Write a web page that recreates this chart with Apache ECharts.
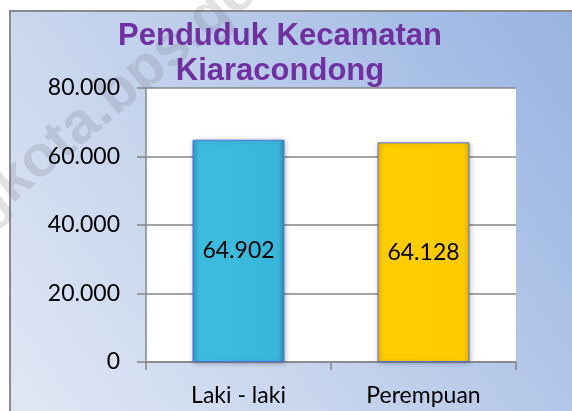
<!DOCTYPE html>
<html>
<head>
<meta charset="utf-8">
<script src="https://cdn.jsdelivr.net/npm/echarts@6/dist/echarts.min.js"></script>
<style>
  html, body { margin: 0; padding: 0; background: #ffffff; }
  #chart { width: 572px; height: 411px; }
</style>
</head>
<body>
<div id="chart"></div>
<script>
// ---- data ----
const titleLines = ['Penduduk Kecamatan', 'Kiaracondong'];
const categories = ['Laki - laki', 'Perempuan'];
const values = [64902, 64128];
const yMin = 0;
const yMax = 80000;
const yStep = 20000;
const watermark = 'bandungkota.bps.go.id';

// ---- helpers ----
function fmt(v) {
  return String(Math.round(v)).replace(/\B(?=(\d{3})+(?!\d))/g, '.');
}
const barGradients = [
  new echarts.graphic.LinearGradient(0, 0, 1, 0, [
    { offset: 0, color: '#2b9dbd' },
    { offset: 0.07, color: '#3cbcdf' },
    { offset: 0.93, color: '#38b7da' },
    { offset: 1, color: '#2792b1' }
  ]),
  new echarts.graphic.LinearGradient(0, 0, 1, 0, [
    { offset: 0, color: '#f2be00' },
    { offset: 0.07, color: '#ffcd00' },
    { offset: 0.93, color: '#ffcb00' },
    { offset: 1, color: '#e8b600' }
  ])
];
const barBorders = ['#2a98b8', '#dcae00'];

const chart = echarts.init(document.getElementById('chart'), null, { renderer: 'canvas' });

const wmAngle = 40 * Math.PI / 180;
const wmFontSize = 58;

const option = {
  animation: false,
  backgroundColor: '#ffffff',
  graphic: [
    {
      type: 'rect',
      z: -10,
      silent: true,
      shape: { x: 10, y: 11, width: 570, height: 408 },
      style: {
        fill: new echarts.graphic.LinearGradient(0, 1, 1, 0, [
          { offset: 0, color: '#e1e8f5' },
          { offset: 0.5, color: '#bfcfeb' },
          { offset: 1, color: '#96b3e1' }
        ]),
        stroke: '#8a8a8a',
        lineWidth: 2
      }
    },
    {
      type: 'text',
      z: -5,
      silent: true,
      x: -186,
      y: 349,
      rotation: wmAngle,
      style: {
        text: watermark,
        font: 'bold ' + wmFontSize + 'px "Liberation Sans", Arial, sans-serif',
        fill: 'rgba(110,110,125,0.2)',
        textAlign: 'left',
        verticalAlign: 'middle'
      }
    },
    {
      type: 'text',
      z: 100,
      silent: true,
      x: 280,
      y: 19,
      style: {
        text: titleLines.join('\n'),
        font: 'bold 31px "Liberation Sans", Arial, sans-serif',
        lineHeight: 35,
        fill: '#7030a0',
        textAlign: 'center',
        verticalAlign: 'top'
      }
    }
  ],
  grid: {
    left: 146,
    right: 56,
    top: 88,
    bottom: 49,
    show: true,
    backgroundColor: '#ffffff',
    borderWidth: 0,
    containLabel: false
  },
  xAxis: {
    type: 'category',
    data: categories,
    boundaryGap: true,
    axisLine: { show: true, lineStyle: { color: '#868686', width: 1.5 } },
    axisTick: { show: true, length: 8, alignWithLabel: false, lineStyle: { color: '#868686', width: 1.5 } },
    axisLabel: {
      margin: 22,
      color: '#000000',
      fontFamily: 'Lato, "Open Sans", sans-serif',
      fontSize: 23
    },
    splitLine: { show: false }
  },
  yAxis: {
    type: 'value',
    min: yMin,
    max: yMax,
    interval: yStep,
    axisLine: { show: true, lineStyle: { color: '#868686', width: 1.5 } },
    axisTick: { show: true, length: 9, lineStyle: { color: '#868686', width: 1.5 } },
    axisLabel: {
      margin: 26,
      color: '#000000',
      fontFamily: 'Lato, "Open Sans", sans-serif',
      fontSize: 23,
      formatter: fmt
    },
    splitLine: { show: true, lineStyle: { color: '#868686', width: 1.5 } }
  },
  series: [
    {
      type: 'bar',
      data: values,
      barWidth: 92,
      itemStyle: {
        color: function (p) { return barGradients[p.dataIndex]; },
        borderColor: function (p) { return barBorders[p.dataIndex]; },
        borderWidth: 1,
        shadowColor: 'rgba(0,0,0,0.25)',
        shadowBlur: 5,
        shadowOffsetX: 1,
        shadowOffsetY: 1
      },
      label: {
        show: true,
        position: 'inside',
        color: '#000000',
        fontFamily: 'Lato, "Open Sans", sans-serif',
        fontSize: 23,
        formatter: function (p) { return fmt(p.value); }
      }
    }
  ]
};
chart.setOption(option);
</script>
</body>
</html>
